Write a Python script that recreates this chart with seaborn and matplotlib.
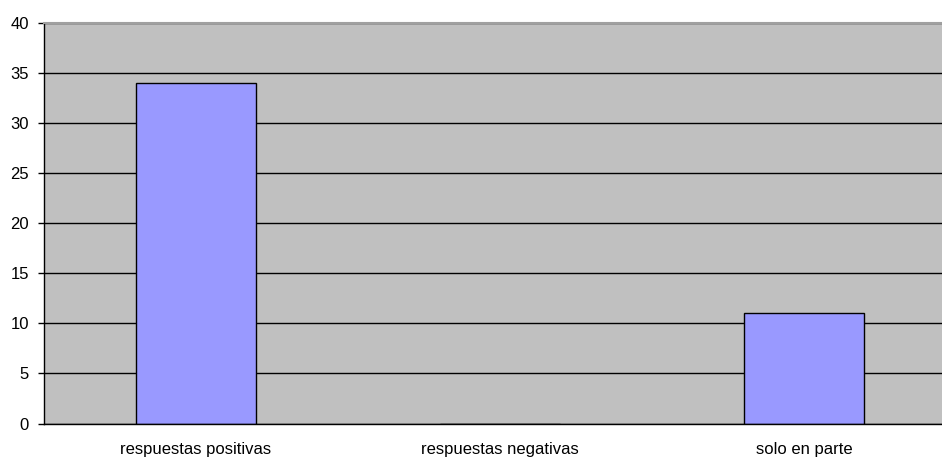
import matplotlib
matplotlib.use('Agg')
import matplotlib.pyplot as plt
import seaborn as sns

# Datos
categorias = ['respuestas positivas', 'respuestas negativas', 'solo en parte']
valores = [34, 0, 11]
marcas_y = [0, 5, 10, 15, 20, 25, 30, 35, 40]

sns.set_style('white')
plt.rcParams['font.family'] = ['Liberation Sans', 'DejaVu Sans']

fig = plt.figure(figsize=(9.42, 4.59), dpi=100)
ax = fig.add_axes([44 / 942, 1 - 423.5 / 459, 912 / 942, 400.8 / 459])
ax.set_facecolor('#C0C0C0')

sns.barplot(x=categorias, y=valores, color='#9999FF', saturation=1,
            edgecolor='black', linewidth=1, width=0.395, ax=ax)

ax.set_xlim(-0.5, 2.5)
ax.set_ylim(0, 40)
ax.set_yticks(marcas_y)
ax.set_axisbelow(True)
ax.yaxis.grid(True, color='black', linewidth=1)
ax.xaxis.grid(False)

# Ticks: etiquetas centradas, marcas en los límites de categoría
ax.set_xticks(range(len(categorias)))
ax.set_xticklabels(categorias, fontsize=12)
ax.tick_params(axis='x', which='major', length=0, pad=13.5, labelcolor='black')
ax.set_xticks([-0.5, 0.5, 1.5], minor=True)
ax.tick_params(axis='x', which='minor', length=4.3, width=1, color='black', direction='out')
ax.tick_params(axis='y', length=4.3, width=1, color='black', direction='out',
               pad=6.5, labelsize=12, labelcolor='black')
ax.tick_params(left=True, bottom=True)

for s in ['left', 'bottom']:
    ax.spines[s].set_color('black')
    ax.spines[s].set_linewidth(1)
ax.spines['top'].set_color('#A0A0A0')
ax.spines['top'].set_linewidth(1.5)
ax.spines['right'].set_visible(False)

ax.set_xlabel('')
ax.set_ylabel('')

fig.savefig('out.png', dpi=100)
